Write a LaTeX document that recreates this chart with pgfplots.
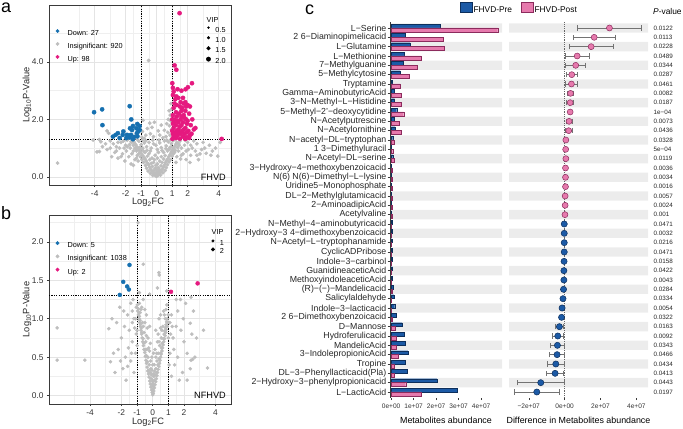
\documentclass[border=0pt]{standalone}
\usepackage{pgfplots}
\pgfplotsset{compat=1.18}
\usepackage{fontspec}
\setmainfont{Liberation Sans}
\definecolor{upc}{HTML}{E5197F}
\definecolor{downc}{HTML}{1670B0}
\definecolor{insc}{HTML}{BEBEBE}
\definecolor{preblue}{HTML}{1C5AA6}
\definecolor{preedge}{HTML}{0D2F5C}
\definecolor{postpink}{HTML}{E67AAD}
\definecolor{postedge}{HTML}{8C2B5D}
\definecolor{stripe}{HTML}{ECECEC}
\definecolor{gridc}{HTML}{E4E4E4}
\definecolor{boxc}{HTML}{3A3A3A}
\newcommand{\fs}[1]{\fontsize{#1}{#1}\selectfont}
\pgfplotsset{
  volc/.style={
    scale only axis, width=182bp, anchor=south west,
    axis line style={draw=boxc, line width=0.6bp},
    tick style={draw=boxc, line width=0.5bp},
    tick align=outside, major tick length=2bp, minor tick length=0pt,
    xtick pos=left, ytick pos=left,
    xtick={-4,-2,-1,0,1,2,4}, xticklabels={-4,-2,-1,0,1,2,4},
    minor xtick={-5,-3,-1.5,-0.5,0.5,1.5,3},
    grid=both,
    major grid style={draw=gridc, line width=0.55bp},
    minor grid style={draw=gridc!60, line width=0.4bp},
    tick label style={font=\fs{8.4}, text=black!80},
    xlabel={Log\textsubscript{2}FC}, ylabel={Log\textsubscript{10}P-Value},
    label style={font=\fs{9.3}, text=black!85},
    legend style={draw=none, fill=none, font=\fs{7.3}, anchor=north west, inner sep=0pt, row sep=4.8bp,
      nodes={inner sep=0.5bp, text height=5.2bp, text depth=1.5bp}},
    legend cell align=left,
  },
  vipleg/.style={
    scale only axis, width=182bp, anchor=south west, hide axis,
    xmin=0, xmax=1, ymin=0, ymax=1,
    legend style={draw=none, fill=none, font=\fs{7.3}, anchor=north west, inner sep=0pt,
      nodes={inner sep=0.5bp, text height=5bp, text depth=1.2bp}},
    legend cell align=left,
  },
  dotimg/.style 2 args={legend image code/.code={\path[draw=none] (0bp,0bp) -- (14bp,0bp);
      \draw[#1, only marks, mark=*, mark size=#2] plot coordinates {(4.5bp,2.6bp)};}},
  vipimg/.style={legend image code/.code={\path[draw=none] (0bp,0bp) -- (9bp,0bp);
      \draw[black, only marks, mark=*, mark size=#1] plot coordinates {(2.5bp,2.6bp)};}},
}
\begin{document}
\begin{tikzpicture}
\useasboundingbox (0,0) rectangle (683bp,429bp);

% ---------------- panel a ----------------
\begin{axis}[volc, at={(49bp,244bp)}, height=180bp,
  xmin=-6.95, xmax=4.8, ymin=-0.285, ymax=5.985,
  ytick={0,2,4}, yticklabels={0.0,2.0,4.0}, minor ytick={1,3,5},
  xlabel style={at={(axis description cs:0.544,-0.098)}, anchor=center},
  ylabel style={at={(axis description cs:-0.121,0.5)}, anchor=center},
  legend style={at={(axis description cs:0.021,0.866)}},
]
\addlegendimage{dotimg={downc}{1.7bp}}
\addlegendentry{Down: 27}
\addlegendimage{dotimg={insc}{1.7bp}}
\addlegendentry{Insignificant: 920}
\addlegendimage{dotimg={upc}{1.7bp}}
\addlegendentry{Up: 98}
\addplot[only marks, mark=*, color=insc, mark size=1.7bp, forget plot] coordinates {
(0,0.02)(-0.08,0.04)(0.08,0.05)(-0.15,0.08)(0.15,0.09)(0.02,0.1)(-0.22,0.13)(0.22,0.14)(-0.05,0.15)(0.1,0.18)
(-0.3,0.2)(0.3,0.21)(-0.18,0.22)(0.18,0.25)(-0.38,0.27)(0.38,0.28)(0,0.25)(-0.1,0.3)(0.1,0.32)(-0.45,0.34)
(0.45,0.35)(-0.28,0.36)(0.28,0.38)(-0.52,0.41)(0.52,0.42)(-0.05,0.4)(0.05,0.45)(-0.6,0.48)(0.58,0.5)(-0.35,0.47)
(0.35,0.5)(-0.68,0.55)(0.65,0.57)(-0.2,0.5)(0.2,0.55)(-0.75,0.62)(0.72,0.63)(-0.45,0.6)(0.45,0.62)(-0.82,0.68)
(0.78,0.7)(-0.9,0.74)(0.85,0.76)(-0.6,0.72)(0.55,0.74)(-0.97,0.8)(0.92,0.82)(-0.3,0.65)(0.3,0.7)(-1.05,0.86)
(0.98,0.88)(-0.75,0.85)(0.7,0.9)(-1.12,0.92)(1.05,0.95)(-0.5,0.8)(0.45,0.85)(-1.2,0.98)(1.1,1.0)(-0.9,1.0)
(0.85,1.02)(-1.28,1.05)(1.18,1.07)(-0.1,0.75)(0.12,0.85)(-0.65,1.05)(0.62,1.08)(-1.35,1.12)(1.25,1.14)(-1.0,1.12)
(0.95,1.15)(-0.35,1.0)(0.3,1.02)(-1.45,1.2)(1.3,1.2)(-0.8,1.18)(0.75,1.22)(-1.15,1.24)(1.05,1.26)(-0.5,1.2)
(0.5,1.25)(-1.55,1.27)(0.2,1.18)(-0.2,1.15)(-0.9,1.28)(0.9,1.29)
(-0.25,0.05)(0.25,0.06)(-0.4,0.12)(0.4,0.14)(-0.55,0.2)(0.55,0.22)(-0.12,0.12)(0.12,0.14)(-0.65,0.3)(0.62,0.32)
(-0.72,0.4)(0.7,0.42)(-0.85,0.5)(0.8,0.52)(-0.95,0.6)(0.9,0.6)(-1.05,0.7)(1.0,0.72)(-1.15,0.8)(1.08,0.8)
(-0.4,0.9)(0.35,0.92)(-0.15,0.6)(0.05,0.65)(-0.62,0.92)(0.6,0.98)(-1.0,0.95)(0.95,1.05)(-1.3,0.9)(1.2,0.92)
(-1.4,1.0)(1.35,1.02)(-1.5,1.1)(1.4,1.15)(-1.65,1.22)(-0.25,1.28)(0.15,1.28)(-0.7,1.25)(0.65,1.28)(-1.25,1.3)
(1.15,1.3)(-0.05,1.1)(0.05,0.95)(-0.85,0.9)(0.8,0.95)(-1.1,1.02)(1.0,0.9)
(-1.9,1.05)(-2.1,1.0)(-2.5,1.2)(-1.6,0.8)(-1.3,0.65)(1.6,0.75)(1.9,0.9)(2.2,1.1)(2.6,0.75)(3.1,1.0)
(-2.6,0.9)(-3.0,1.0)(-2.3,0.7)
(-0.52,4.05)(-0.88,1.97)(-0.45,1.87)(0.92,2.55)(0.95,2.35)(0.88,2.15)(0.9,1.95)(0.82,1.78)(0.96,1.65)(0.72,1.55)
(0.86,1.45)(0.6,1.4)(0.4,1.36)(0.2,1.45)(-0.2,1.4)(-0.4,1.5)(-0.7,1.45)(-0.92,1.58)(-0.6,1.68)(-0.3,1.72)
(0.1,1.6)(0.5,1.62)(0.75,2.0)(-0.95,1.38)(-0.8,1.34)(0.65,1.85)(0.8,2.3)(-0.15,1.9)(0.3,1.8)
(-1.5,0.9)(-1.7,1.0)(-2.0,1.1)(-2.3,1.2)(-2.6,1.05)(-3.0,1.25)(-3.3,1.15)(-3.6,1.22)(-2.2,0.8)(-1.8,0.7)
(-2.7,0.85)(-3.2,0.95)(-3.85,0.87)(-3.7,0.88)(-1.6,1.2)(-1.9,1.28)(-2.4,1.0)(-1.4,0.6)(-1.25,0.75)(-2.8,1.15)
(-6.4,0.48)(-3.2,1.6)(-3.1,1.52)(-2.05,0.55)(-1.65,0.45)(-2.5,0.65)(-1.95,0.9)(-3.5,1.05)(-2.9,0.7)(-1.75,1.12)
(-1.35,0.98)(-2.15,1.25)(-3.7,1.3)(-4.1,1.28)(-1.5,0.4)(-1.2,0.55)
(1.4,0.9)(1.6,1.0)(1.8,1.1)(2.0,1.2)(2.3,1.0)(2.6,1.15)(2.9,0.95)(3.2,0.82)(3.5,0.75)(3.8,1.0)
(4.1,1.2)(1.3,0.7)(1.7,0.8)(2.2,0.75)(2.5,0.9)(3.0,1.2)(1.5,1.25)(1.9,0.6)(2.7,0.6)(3.4,1.1)
(1.25,0.5)(1.55,0.62)(2.05,0.95)(2.4,1.25)(1.15,0.85)(1.85,1.27)(2.8,0.8)(3.6,0.9)(1.45,1.1)(2.15,0.5)(3.95,0.72)
};
\addplot[only marks, mark=*, color=downc, mark size=2.1bp, forget plot] coordinates {
(-4.04,2.25)(-3.52,2.35)(-3.5,1.8)(-1.74,2.46)(-1.64,2.0)(-1.53,1.77)(-1.25,1.84)(-1.1,1.77)(-1.31,1.69)
(-1.59,1.63)(-1.28,1.52)(-2.65,1.46)(-2.5,1.52)(-2.19,1.46)(-1.91,1.46)(-1.66,1.46)(-1.45,1.39)(-1.24,1.41)
(-2.39,1.35)(-1.96,1.35)(-1.74,1.37)(-1.53,1.31)(-2.82,1.4)(-2.15,1.58)(-1.72,1.69)(-1.1,1.63)(-1.18,1.58)
};
\addplot[only marks, mark=*, color=upc, mark size=2.1bp, forget plot] coordinates {
(1.48,5.7)(1.16,3.88)(1.27,3.73)(1.01,3.26)(2.28,3.26)(2.02,3.12)(1.87,3.05)(1.6,3.0)(1.1,2.97)(1.27,2.8)
(4.2,1.32)(1.05,2.85)(1.2,2.7)(1.4,2.75)(1.55,2.6)(1.75,2.55)(1.9,2.45)(2.0,2.5)(1.3,2.5)(1.1,2.4)
(1.65,2.4)(1.85,2.3)(2.1,2.2)(1.25,2.25)(1.45,2.2)(1.05,2.15)(1.6,2.1)(1.8,2.05)(2.3,2.0)(1.15,2.0)
(1.35,1.95)(1.7,1.9)(1.95,1.85)(2.2,1.8)(1.05,1.85)(1.25,1.8)(1.5,1.75)(1.85,1.7)(2.4,1.65)(1.1,1.7)
(1.4,1.65)(1.65,1.6)(2.05,1.6)(1.2,1.55)(1.55,1.5)(1.8,1.5)(2.15,1.45)(1.05,1.5)(1.35,1.45)(1.7,1.4)
(1.95,1.38)(1.1,1.4)(1.25,1.35)(1.5,1.33)(1.85,1.32)(2.1,1.35)(1.02,1.32)(1.4,1.9)(1.6,2.3)(1.9,2.0)
(1.15,2.55)(1.5,2.45)(1.75,2.15)(2.0,1.95)(1.3,1.6)(1.6,1.8)(2.25,1.5)(1.0,2.0)(1.0,1.6)(1.12,1.9)
(1.45,1.55)(1.75,1.65)(1.95,1.55)(1.3,2.1)(1.55,2.0)(1.2,1.45)(2.5,1.7)(1.85,2.6)(1.7,2.75)(1.35,3.05)
(1.05,3.1)(2.15,2.45)
};
\addplot[black, dash pattern=on 1.2bp off 1.2bp, line width=0.5bp, forget plot] coordinates {(-1,-0.285) (-1,5.985)};
\addplot[black, dash pattern=on 1.2bp off 1.2bp, line width=0.5bp, forget plot] coordinates {(1,-0.285) (1,5.985)};
\addplot[black, dash pattern=on 1.2bp off 1.2bp, line width=0.5bp, forget plot] coordinates {(-6.95,1.301) (4.8,1.301)};
\end{axis}
\begin{axis}[vipleg, at={(49bp,244bp)}, height=180bp,
  legend style={at={(axis description cs:0.8615,0.881)}, row sep=2.5bp}]
\addplot[draw=none, forget plot] coordinates {(0.5,0.5)};
\addlegendimage{vipimg=1.0bp}\addlegendentry{0.5}
\addlegendimage{vipimg=1.4bp}\addlegendentry{1.0}
\addlegendimage{vipimg=1.8bp}\addlegendentry{1.5}
\addlegendimage{vipimg=2.2bp}\addlegendentry{2.0}
\end{axis}

% ---------------- panel b ----------------
\begin{axis}[volc, at={(49bp,25bp)}, height=189bp,
  xmin=-6.62, xmax=5.0, ymin=-0.11, ymax=2.35,
  ytick={0,0.5,1,1.5,2}, yticklabels={0.0,0.5,1.0,1.5,2.0}, minor ytick={0.25,0.75,1.25,1.75,2.25},
  xlabel style={at={(axis description cs:0.544,-0.094)}, anchor=center},
  ylabel style={at={(axis description cs:-0.121,0.5)}, anchor=center},
  legend style={at={(axis description cs:0.021,0.861)}, row sep=5.1bp},
]
\addlegendimage{dotimg={downc}{1.7bp}}
\addlegendentry{Down: 5}
\addlegendimage{dotimg={insc}{1.7bp}}
\addlegendentry{Insignificant: 1038}
\addlegendimage{dotimg={upc}{1.7bp}}
\addlegendentry{Up: 2}
\addplot[only marks, mark=*, color=insc, mark size=1.6bp, forget plot] coordinates {
(0,0.01)(0.03,0.03)(-0.03,0.04)(0.07,0.06)(-0.07,0.07)(0.11,0.1)(-0.11,0.11)(0.15,0.14)(-0.15,0.15)(0,0.08)
(0.05,0.12)(-0.05,0.14)(0.19,0.18)(-0.19,0.19)(0.1,0.2)(-0.1,0.22)(0.23,0.22)(-0.23,0.24)(0.27,0.26)(-0.27,0.28)
(0,0.18)(0.15,0.27)(-0.15,0.3)(0.31,0.3)(-0.31,0.32)(0.35,0.34)(-0.35,0.37)(0.05,0.28)(-0.05,0.33)(0.2,0.35)
(-0.22,0.4)(0.39,0.38)(-0.39,0.42)(0.43,0.42)(-0.43,0.46)(0.1,0.4)(-0.12,0.45)(0.28,0.45)(-0.3,0.5)(0.47,0.46)
(-0.47,0.51)(0.51,0.5)(-0.51,0.56)(0.35,0.55)(-0.38,0.6)(0.55,0.54)(-0.55,0.6)(0.59,0.58)(-0.59,0.65)(0.2,0.5)
(-0.2,0.58)(0.63,0.62)(-0.63,0.7)(0.45,0.65)(-0.45,0.7)(0.67,0.66)(-0.67,0.75)(0.71,0.7)(-0.71,0.8)(0.75,0.74)
(-0.75,0.85)(0.55,0.75)(-0.55,0.82)(0.79,0.78)(-0.79,0.9)(0.83,0.82)(-0.83,0.95)(0.87,0.86)(-0.87,1.0)(0.65,0.9)
(-0.65,0.95)(0.91,0.9)(-0.91,1.05)(0.3,0.7)(-0.3,0.75)(0.95,0.95)(-0.95,1.1)(0.8,1.0)(-0.8,1.08)(0.5,0.88)
(-0.5,0.95)(0.98,1.05)(-0.98,1.18)(0.7,1.1)(-0.7,1.15)(0.9,1.18)(-0.6,1.25)(0.4,1.0)(-0.4,1.05)(0.15,0.6)(-0.15,0.68)
(0.02,0.15)(-0.02,0.2)(0.08,0.25)(-0.08,0.27)(0.12,0.32)(-0.12,0.35)(0.25,0.3)(-0.25,0.33)(0.33,0.4)(-0.33,0.44)
(0.41,0.48)(-0.41,0.52)(0.49,0.55)(-0.49,0.6)(0.57,0.62)(-0.57,0.68)(0.61,0.68)(-0.61,0.74)(0.69,0.74)(-0.69,0.82)
(0.73,0.8)(-0.73,0.88)(0.77,0.84)(-0.77,0.93)(0.81,0.88)(-0.81,0.98)(0.85,0.92)(-0.85,1.03)(0.89,0.96)(-0.89,1.08)
(0.93,1.0)(-0.93,1.13)(0.25,0.55)(-0.25,0.62)(0.4,0.7)(-0.4,0.78)(0.6,0.85)(-0.6,0.9)(0.0,0.4)(0.05,0.55)
(-0.05,0.5)(0.35,0.8)(-0.35,0.88)(0.75,1.05)(-0.75,1.12)(0.5,1.05)(-0.5,1.12)(0.2,0.85)(-0.2,0.9)(1.0,0.75)
(-1.0,0.85)(1.1,0.95)(-1.1,1.0)(1.25,0.9)(-1.3,1.1)(0.85,1.12)(-0.85,1.2)
(-1.1,0.55)(-1.3,0.7)(-1.5,0.85)(-1.2,1.0)(-1.6,1.05)(-1.8,0.9)(-2.0,0.75)(-2.2,0.6)(-2.5,0.55)(-2.7,0.44)
(-1.4,0.45)(-1.9,0.35)(-2.4,0.3)(-1.7,0.2)(-1.2,0.3)(-2.6,1.0)(-2.1,1.15)(-1.4,1.2)(-1.05,1.15)(-1.25,1.25)
(-2.8,0.87)(-1.05,0.8)(-1.35,0.55)(-1.55,0.62)(-1.15,0.88)(-1.75,0.5)(-2.3,0.95)(-1.6,0.38)(-1.0,0.65)(-2.05,0.45)
(-6.1,0.46)(-6.1,0.88)(-4.33,0.46)(-1.3,0.95)(-1.85,1.1)
(1.1,0.55)(1.3,0.75)(1.5,0.9)(1.2,1.05)(1.6,1.1)(1.8,0.85)(2.0,0.7)(2.2,0.55)(2.5,0.8)(2.7,0.5)
(1.4,0.4)(1.9,0.3)(2.4,0.35)(1.7,0.2)(1.2,0.25)(2.6,1.1)(2.1,1.2)(1.5,1.25)(2.45,1.28)(1.77,1.25)
(2.4,0.94)(2.8,0.75)(3.25,0.85)(3.5,0.36)(2.45,0.46)(2.55,0.47)(1.05,0.95)(1.35,0.6)(1.15,0.8)(1.6,0.5)(1.95,1.0)(1.05,0.4)(2.2,0.2)
(-0.93,2.25)(-0.6,1.71)(0.4,1.6)(0.42,1.57)(-0.85,1.34)(0.3,1.4)(0.9,1.36)(-0.2,1.32)
};
\addplot[only marks, mark=*, color=downc, mark size=2.0bp, forget plot] coordinates {
(-1.48,1.70)(-1.88,1.48)(-1.63,1.42)(-1.52,1.38)(-2.1,1.31)
};
\addplot[only marks, mark=*, color=upc, mark size=2.0bp, forget plot] coordinates {
(1.17,1.35)(2.87,1.46)
};
\addplot[black, dash pattern=on 1.2bp off 1.2bp, line width=0.5bp, forget plot] coordinates {(-1,-0.11) (-1,2.35)};
\addplot[black, dash pattern=on 1.2bp off 1.2bp, line width=0.5bp, forget plot] coordinates {(1,-0.11) (1,2.35)};
\addplot[black, dash pattern=on 1.2bp off 1.2bp, line width=0.5bp, forget plot] coordinates {(-6.62,1.301) (5.0,1.301)};
\end{axis}
\begin{axis}[vipleg, at={(49bp,25bp)}, height=189bp,
  legend style={at={(axis description cs:0.886,0.871)}, row sep=0.5bp}]
\addplot[draw=none, forget plot] coordinates {(0.5,0.5)};
\addlegendimage{vipimg=1.3bp}\addlegendentry{1}
\addlegendimage{vipimg=1.8bp}\addlegendentry{2}
\end{axis}

% ---------------- panel c: bars ----------------
\begin{axis}[
  at={(390bp,31.4bp)}, anchor=south west, scale only axis,
  width=112bp, height=375.2bp,
  xmin=-0.05, xmax=4.93, ymin=0.4, ymax=40.6,
  axis x line*=bottom, axis y line*=left,
  x axis line style={draw=none},
  y axis line style={draw=boxc, line width=0.5bp},
  tick style={draw=boxc, line width=0.4bp},
  tick align=outside, major tick length=2.5bp,
  xtick={0,1,2,3,4}, xticklabels={0e+00,1e+07,2e+07,3e+07,4e+07},
  ytick={1,...,40},
  yticklabels={L−LacticAcid,2−Hydroxy−3−phenylpropionicacid,DL−3−Phenyllacticacid(Pla),Tropine,3−IndolepropionicAcid,MandelicAcid,Hydroferulicacid,D−Mannose,2 6−Dimethoxybenzoicacid,Indole−3−lacticacid,Salicylaldehyde,(R)−(−)−Mandelicacid,MethoxyindoleaceticAcid,GuanidineaceticAcid,Indole−3−carbinol,CyclicADPribose,N−Acetyl−L−tryptophanamide,2−Hydroxy−3 4−dimethoxybenzoicacid,N−Methyl−4−aminobutyricacid,Acetylvaline,2−AminoadipicAcid,DL−2−Methylglutamicacid,Uridine5−Monophosphate,N(6) N(6)−Dimethyl−L−lysine,3−Hydroxy−4−methoxybenzoicacid,N−Acetyl−DL−serine,1 3−Dimethyluracil,N−acetyl−DL−tryptophan,N−Acetylornithine,N−Acetylputrescine,5−Methyl−2'−deoxycytidine,3−N−Methyl−L−Histidine,Gamma−AminobutyricAcid,Tryptamine,5−Methylcytosine,7−Methylguanine,L−Methionine,L−Glutamine,2 6−Diaminopimelicacid,L−Serine},
  xticklabel style={font=\fs{6.6}, text=black!80},
  y tick label style={font=\fs{8.8}, text=black!85, inner sep=1bp},
  xlabel={Metabolites abundance},
  xlabel style={font=\fs{8.9}, at={(axis description cs:0.5,-0.0613)}, anchor=center},
  legend columns=2,
  legend style={at={(axis description cs:0.62,1.0357)}, anchor=west, draw=none, fill=none, font=\fs{8.4},
    inner sep=0pt, nodes={inner sep=1.5bp}, /tikz/every even column/.append style={column sep=7bp}},
  legend image code/.code={\draw[#1] (0bp,-1.8bp) rectangle (12bp,8.2bp);},
]
\addplot[xbar, bar width=1, bar shift=0, fill=stripe, draw=none, forget plot] coordinates {
(4.93,40)(4.93,38)(4.93,36)(4.93,34)(4.93,32)(4.93,30)(4.93,28)(4.93,26)(4.93,24)(4.93,22)
(4.93,20)(4.93,18)(4.93,16)(4.93,14)(4.93,12)(4.93,10)(4.93,8)(4.93,6)(4.93,4)(4.93,2)};
\addplot[xbar, bar width=0.42, bar shift=0.21, fill=preblue, draw=preedge, line width=0.4bp, forget plot] coordinates {
(2.18,40)(0.64,39)(0.84,38)(0.59,37)(0.52,36)(0.40,35)(0.03,34)(0.15,33)(0.15,32)(0.25,31)
(0.12,30)(0.18,29)(0.07,28)(0.01,27)(0.07,26)(0.01,25)(0.01,24)(0.01,23)(0.005,22)(0.005,21)
(0.01,20)(0.03,19)(0.03,18)(0.03,17)(0.03,16)(0.03,15)(0.06,14)(0.06,13)(0.10,12)(0.12,11)
(0.16,10)(0.21,9)(0.49,8)(0.59,7)(0.64,6)(0.74,5)(0.64,4)(0.70,3)(2.03,2)(2.92,1)};
\addplot[xbar, bar width=0.42, bar shift=-0.21, fill=postpink, draw=postedge, line width=0.4bp, forget plot] coordinates {
(4.74,40)(2.31,39)(2.34,38)(1.32,37)(1.14,36)(0.79,35)(0.40,34)(0.47,33)(0.47,32)(0.56,31)
(0.37,30)(0.43,29)(0.12,28)(0.07,27)(0.12,26)(0.06,25)(0.06,24)(0.06,23)(0.03,22)(0.03,21)
(0.04,20)(0.01,19)(0.01,18)(0.01,17)(0.01,16)(0.01,15)(0.01,14)(0.01,13)(0.03,12)(0.01,11)
(0.01,10)(0.03,9)(0.18,8)(0.21,7)(0.21,6)(0.30,5)(0.12,4)(0.12,3)(0.65,2)(1.32,1)};
\addlegendimage{fill=preblue, draw=preedge, line width=0.4bp}
\addlegendentry{FHVD-Pre}
\addlegendimage{fill=postpink, draw=postedge, line width=0.4bp}
\addlegendentry{FHVD-Post}
\end{axis}

% ---------------- panel c: differences ----------------
\begin{axis}[
  at={(509bp,31.4bp)}, anchor=south west, scale only axis,
  width=139bp, height=375.2bp,
  xmin=-3.1, xmax=4.65, ymin=0.4, ymax=40.6,
  axis line style={draw=none},
  tick style={draw=boxc, line width=0.4bp},
  tick align=outside, major tick length=2.5bp,
  xtick pos=left, ytick pos=right, yticklabel pos=right,
  xtick={-2,0,2,4}, xticklabels={−2e+07,0e+00,2e+07,4e+07},
  ytick={1,...,40},
  ytick style={draw=none},
  yticklabels={0.0197,0.0443,0.0413,0.0434,0.0466,0.0343,0.0092,0.0163,0.0322,0.0054,0.0334,0.0284,0.0043,0.0422,0.0158,0.0471,0.0216,0.0032,0.0471,0.001,0.0024,0.0057,0.0016,0.0034,0.0036,0.0119,5e−04,0.0328,0.0436,0.0073,1e−04,0.0187,0.0082,0.0461,0.0287,0.0344,0.0489,0.0228,0.0113,0.0122},
  xticklabel style={font=\fs{6.6}, text=black!80},
  y tick label style={font=\fs{6.3}, text=black!85, inner sep=0pt, xshift=3bp},
  xlabel={Difference in Metabolites abundance},
  xlabel style={font=\fs{8.9}, at={(axis description cs:0.5,-0.0613)}, anchor=center},
]
\addplot[xbar, bar width=1, bar shift=0, fill=stripe, draw=none, forget plot] coordinates {
(4.65,40)(4.65,38)(4.65,36)(4.65,34)(4.65,32)(4.65,30)(4.65,28)(4.65,26)(4.65,24)(4.65,22)
(4.65,20)(4.65,18)(4.65,16)(4.65,14)(4.65,12)(4.65,10)(4.65,8)(4.65,6)(4.65,4)(4.65,2)};
\addplot[xbar, bar width=1, bar shift=0, fill=stripe, draw=none, forget plot] coordinates {
(-3.1,40)(-3.1,38)(-3.1,36)(-3.1,34)(-3.1,32)(-3.1,30)(-3.1,28)(-3.1,26)(-3.1,24)(-3.1,22)
(-3.1,20)(-3.1,18)(-3.1,16)(-3.1,14)(-3.1,12)(-3.1,10)(-3.1,8)(-3.1,6)(-3.1,4)(-3.1,2)};
\addplot[black!60, dash pattern=on 0.8bp off 1bp, line width=0.5bp, forget plot] coordinates {(0,0.4) (0,40.6)};
\addplot[only marks, mark=*, mark size=3bp, mark options={fill=postpink, draw=postedge, line width=0.5bp},
  error bars/.cd, x dir=both, x explicit,
  error bar style={draw=black!55, line width=0.6bp},
  error mark options={draw=black!55, line width=0.6bp, mark size=2.8bp, rotate=90}] coordinates {
(2.50,40) +- (1.78,0) (1.65,39) +- (1.16,0) (1.48,38) +- (1.23,0) (0.70,37) +- (0.68,0)
(0.62,36) +- (0.56,0) (0.40,35) +- (0.33,0) (0.38,34) +- (0.33,0) (0.33,33) +- (0.18,0)
(0.31,32) +- (0.19,0) (0.31,31) +- (0.03,0) (0.25,30) +- (0.17,0) (0.23,29) +- (0.18,0)};
\addplot[only marks, mark=*, mark size=3bp, mark options={fill=postpink, draw=postedge, line width=0.5bp}] coordinates {
(0.07,28)(0.06,27)(0.07,26)(0.05,25)(0.05,24)(0.05,23)(0.03,22)(0.03,21)(0.02,20)};
\addplot[only marks, mark=*, mark size=3.1bp, mark options={fill=preblue, draw=preedge, line width=0.5bp}] coordinates {
(-0.02,19)(-0.02,18)(-0.02,17)(-0.02,16)(-0.03,15)(-0.04,14)(-0.04,13)(-0.06,12)(-0.09,11)(-0.14,10)(-0.17,9)};
\addplot[only marks, mark=*, mark size=3.1bp, mark options={fill=preblue, draw=preedge, line width=0.5bp},
  error bars/.cd, x dir=both, x explicit,
  error bar style={draw=black!55, line width=0.6bp},
  error mark options={draw=black!55, line width=0.6bp, mark size=2.8bp, rotate=90}] coordinates {
(-0.29,8) +- (0.22,0) (-0.38,7) +- (0.30,0) (-0.40,6) +- (0.37,0) (-0.42,5) +- (0.41,0)
(-0.49,4) +- (0.46,0) (-0.53,3) +- (0.47,0) (-1.33,2) +- (1.30,0) (-1.55,1) +- (1.24,0)};
\end{axis}

% ---------------- text ----------------
\node[anchor=base west, font=\fs{18}, inner sep=0pt] at (1bp,416bp) {a};
\node[anchor=base west, font=\fs{18}, inner sep=0pt] at (1bp,209bp) {b};
\node[anchor=base west, font=\fs{18}, inner sep=0pt] at (305bp,414bp) {c};
\node[anchor=west, font=\fs{7.3}, inner sep=0pt] at (206.5bp,409bp) {VIP};
\node[anchor=west, font=\fs{7.3}, inner sep=0pt] at (211.5bp,197.3bp) {VIP};
\node[anchor=east, font=\fs{9.2}, inner sep=0pt] at (226bp,251.5bp) {FHVD};
\node[anchor=east, font=\fs{9.2}, inner sep=0pt] at (226bp,33.3bp) {NFHVD};
\node[anchor=west, font=\fs{8.4}, inner sep=0pt] at (653bp,417bp) {\textit{P}-value};
\end{tikzpicture}
\end{document}
